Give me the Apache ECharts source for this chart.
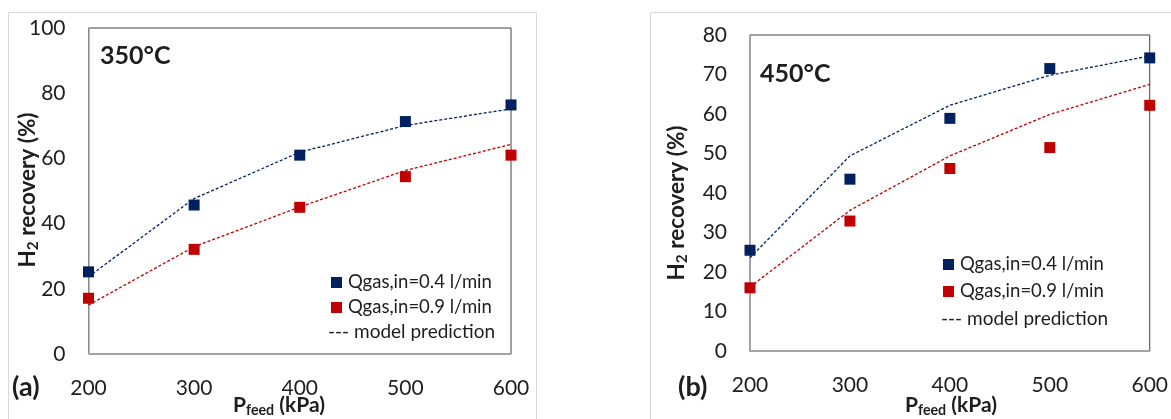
<!DOCTYPE html>
<html>
<head>
<meta charset="utf-8">
<script src="https://cdn.jsdelivr.net/npm/echarts@6/dist/echarts.min.js"></script>
<style>
  html, body { margin: 0; padding: 0; background: #fff; }
  #chart { width: 1171px; height: 419px; }
</style>
</head>
<body>
<div id="chart"></div>
<script>
// feed pressure, kPa
const pFeed = [200, 300, 400, 500, 600];

// (a) 350 °C
const exp350Low = [25.2, 45.7, 61.0, 71.3, 76.4];   // Qgas,in=0.4 l/min
const exp350High = [17.1, 32.1, 45.0, 54.4, 61.0];  // Qgas,in=0.9 l/min
const model350Low = [23.7, 47.7, 61.9, 70.1, 75.2];
const model350High = [15.0, 32.9, 45.1, 56.3, 64.3];

// (b) 450 °C
const exp450Low = [25.5, 43.5, 58.9, 71.5, 74.2];
const exp450High = [16.0, 32.9, 46.2, 51.5, 62.2];
const model450Low = [23.6, 49.4, 62.2, 69.8, 74.7];
const model450High = [16.2, 35.6, 49.4, 59.9, 67.5];

const xTicks = [200, 300, 400, 500, 600];
const yTicksA = [0, 20, 40, 60, 80, 100];
const yTicksB = [0, 10, 20, 30, 40, 50, 60, 70, 80];

const BLUE = "#002060";
const RED = "#c00000";
const TXT = "#1e1e1e";
const FONT = "Lato, 'Open Sans', sans-serif";

const pairs = ys => pFeed.map((x, i) => [x, ys[i]]);

function xAxisOf(gridIndex) {
  return {
    type: "value",
    gridIndex: gridIndex,
    min: xTicks[0],
    max: xTicks[xTicks.length - 1],
    interval: 100,
    axisLine: { show: true, onZero: false, lineStyle: { color: "#a6a6a6", width: 1.5 } },
    axisTick: { show: false },
    splitLine: { show: false },
    axisLabel: { color: TXT, fontFamily: FONT, fontSize: 21, margin: 24 }
  };
}

function yAxisOf(gridIndex, ticks) {
  return {
    type: "value",
    gridIndex: gridIndex,
    min: ticks[0],
    max: ticks[ticks.length - 1],
    interval: ticks[1] - ticks[0],
    axisLine: { show: true, lineStyle: { color: "#a6a6a6", width: 1.5 } },
    axisTick: { show: false },
    splitLine: { show: false },
    axisLabel: { color: TXT, fontFamily: FONT, fontSize: 21, margin: 23 }
  };
}

function scatter(name, data, color, gi) {
  return {
    name: name,
    type: "scatter",
    xAxisIndex: gi,
    yAxisIndex: gi,
    data: pairs(data),
    symbol: "rect",
    symbolSize: 11,
    itemStyle: { color: color, opacity: 1 },
    z: 3
  };
}

function model(data, color, gi) {
  return {
    name: "model",
    type: "line",
    xAxisIndex: gi,
    yAxisIndex: gi,
    data: pairs(data),
    symbol: "none",
    lineStyle: { color: color, width: 1.3, type: [3, 2] },
    z: 2
  };
}

function legendAt(left, top, gap) {
  return {
    orient: "vertical",
    left: left,
    top: top,
    padding: 0,
    data: ["Qgas,in=0.4 l/min", "Qgas,in=0.9 l/min"],
    icon: "rect",
    itemWidth: 11,
    itemHeight: 11,
    itemGap: gap,
    selectedMode: false,
    itemStyle: { opacity: 1 },
    textStyle: { color: TXT, fontFamily: FONT, fontSize: 18.5, lineHeight: 18, padding: [0, 0, 0, 1] }
  };
}

function label(text, x, y, size) {
  return {
    type: "text",
    x: x,
    y: y,
    style: {
      text: text,
      fill: TXT,
      font: "bold " + size + "px " + FONT,
      align: "left",
      verticalAlign: "middle"
    }
  };
}

function richName(text, x, y, rot, size) {
  return {
    type: "text",
    x: x,
    y: y,
    rotation: rot,
    style: {
      text: text,
      fill: TXT,
      align: "center",
      verticalAlign: "middle",
      rich: {
        b: { fontFamily: FONT, fontSize: size, fontWeight: "bold", fill: TXT },
        s: { fontFamily: FONT, fontSize: size * 0.68, fontWeight: "bold", fill: TXT, padding: [11, 0, 0, 0] }
      }
    }
  };
}

var myChart = echarts.init(document.getElementById("chart"));

var option = {
  animation: false,
  backgroundColor: "#fff",
  grid: [
    { left: 88.5, top: 28, width: 422.5, height: 326, show: true, borderColor: "#404040", borderWidth: 1 },
    { left: 750, top: 35, width: 403, height: 316, show: true, borderColor: "#404040", borderWidth: 1 }
  ],
  xAxis: [xAxisOf(0), xAxisOf(1)],
  yAxis: [yAxisOf(0, yTicksA), yAxisOf(1, yTicksB)],
  legend: [legendAt(331, 273, 6), legendAt(943, 255, 8)],
  series: [
    model(model350Low, BLUE, 0),
    model(model350High, RED, 0),
    scatter("Qgas,in=0.4 l/min", exp350Low, BLUE, 0),
    scatter("Qgas,in=0.9 l/min", exp350High, RED, 0),
    model(model450Low, BLUE, 1),
    model(model450High, RED, 1),
    scatter("Qgas,in=0.4 l/min", exp450Low, BLUE, 1),
    scatter("Qgas,in=0.9 l/min", exp450High, RED, 1)
  ],
  graphic: [
    // outer chart-area frames
    { type: "rect", shape: { x: 8.5, y: 12.5, width: 528, height: 420 }, style: { fill: null, stroke: "#d9d9d9", lineWidth: 1 }, z: -1 },
    { type: "rect", shape: { x: 650.5, y: 12.5, width: 600, height: 420 }, style: { fill: null, stroke: "#d9d9d9", lineWidth: 1 }, z: -1 },
    label("350°C", 100, 56, 25),
    label("450°C", 760, 74, 25),
    label("(a)", 12, 387, 27),
    label("(b)", 678, 387, 27),
    {
      type: "text", x: 328, y: 332,
      style: { text: "--- model prediction", fill: TXT, font: "19px " + FONT, align: "left", verticalAlign: "middle" }
    },
    {
      type: "text", x: 941, y: 319,
      style: { text: "--- model prediction", fill: TXT, font: "19px " + FONT, align: "left", verticalAlign: "middle" }
    },
    richName("{b|P}{s|feed}{b| (kPa)}", 279, 405, 0, 21),
    richName("{b|P}{s|feed}{b| (kPa)}", 951, 405, 0, 21),
    richName("{b|H}{s|2}{b| recovery (%)}", 28, 190, Math.PI / 2, 22.5),
    richName("{b|H}{s|2}{b| recovery (%)}", 677, 203, Math.PI / 2, 22.5)
  ]
};

myChart.setOption(option);
</script>
</body>
</html>
